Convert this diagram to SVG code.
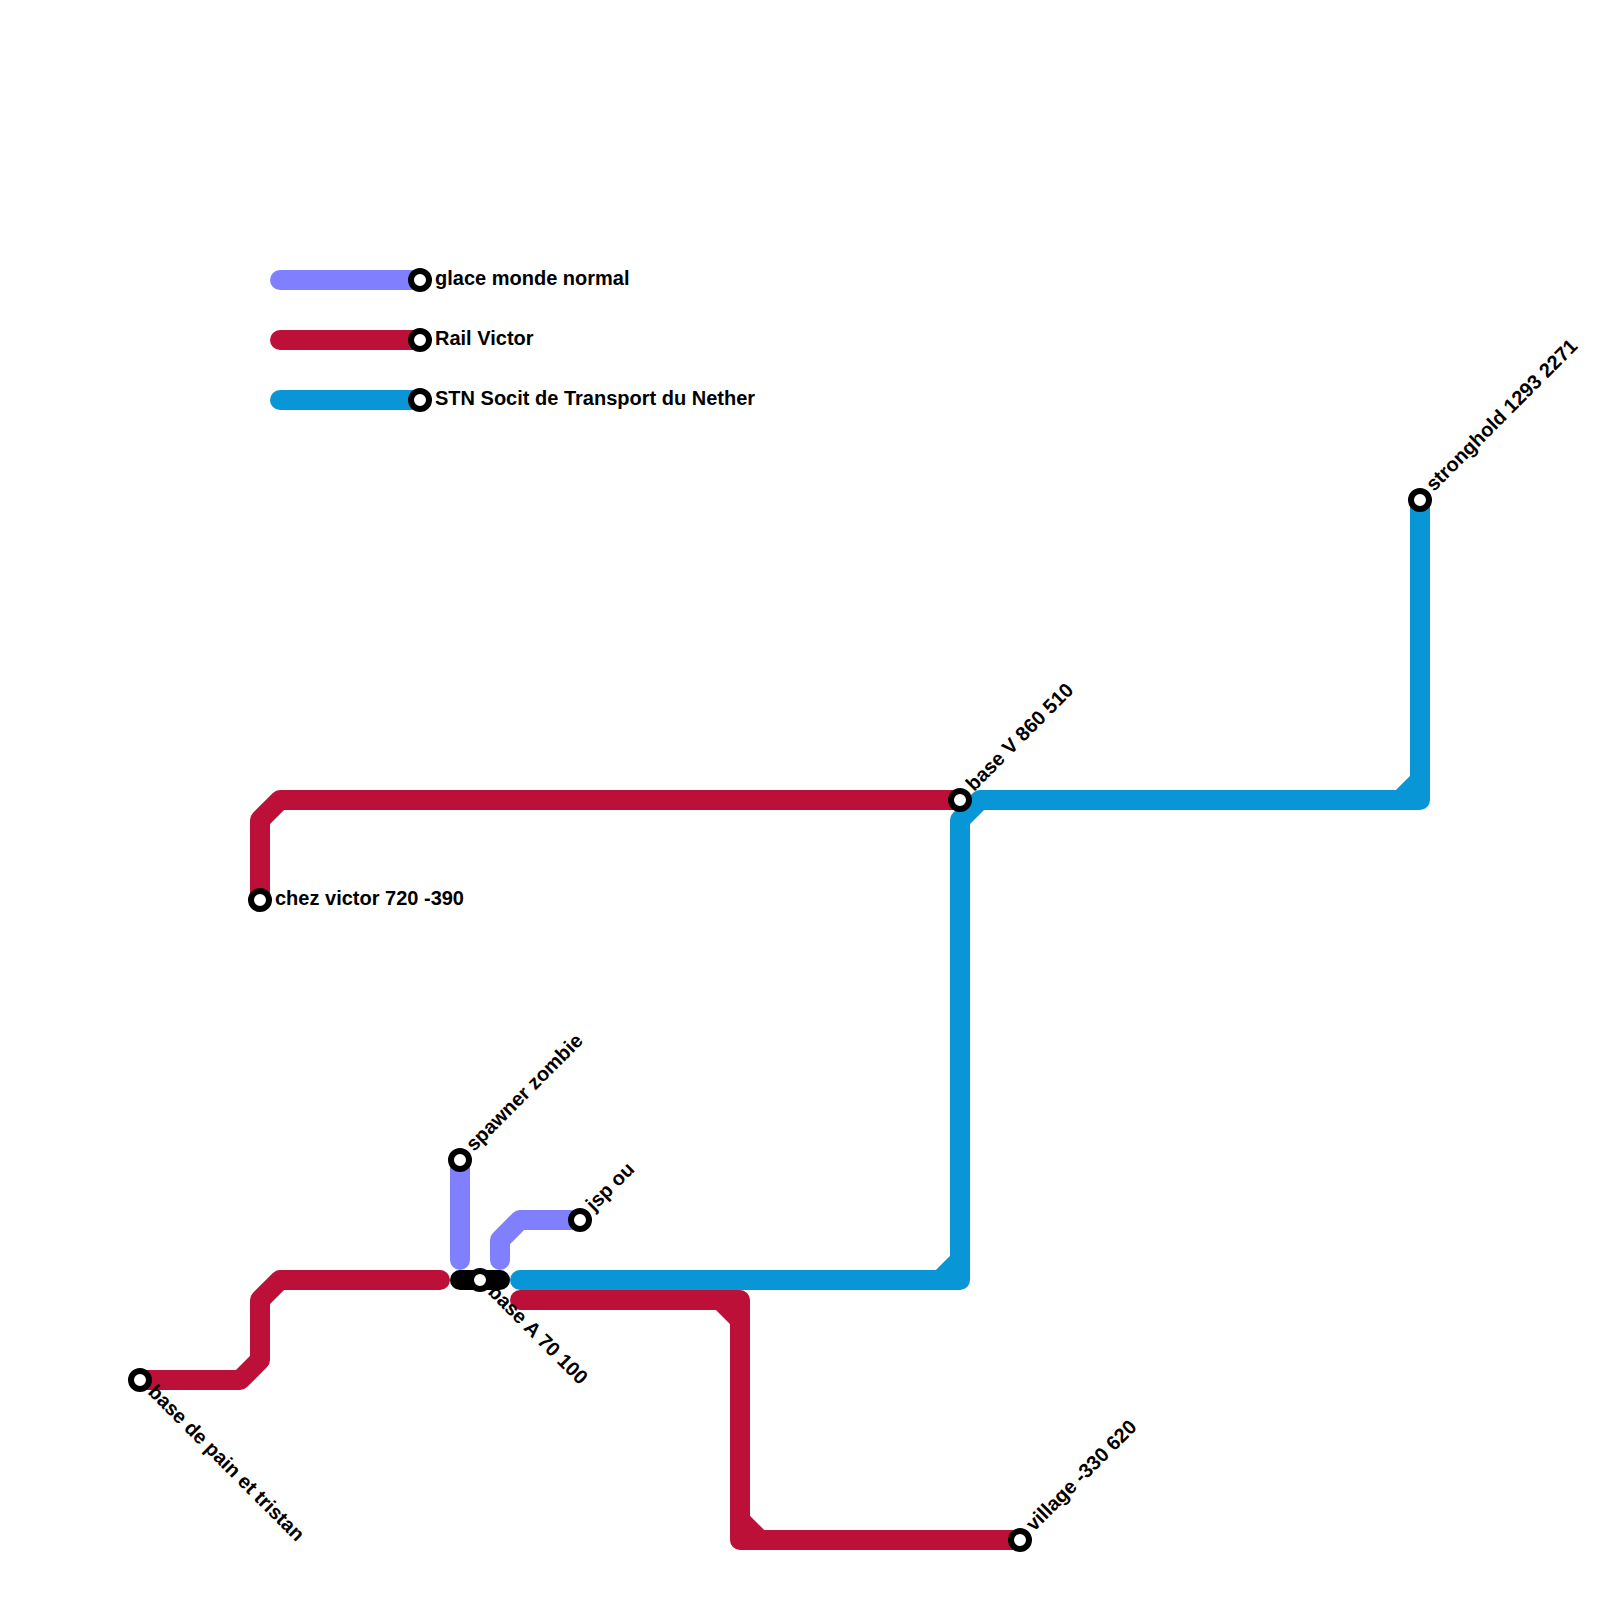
<svg xmlns="http://www.w3.org/2000/svg" width="1600" height="1600" viewBox="0 0 1600 1600">
<style>
.l{fill:none;stroke-width:20;stroke-linecap:round;stroke-linejoin:round}
.p{stroke:#8080ff}.r{stroke:#bd1038}.b{stroke:#0896d7}.k{stroke:#000}
.s{fill:#fff;stroke:#000;stroke-width:6}
text{font-family:"Liberation Sans",Arial,sans-serif;font-size:20px;font-weight:700;fill:#000}
</style>
<rect width="1600" height="1600" fill="#fff"/>
<g id="connectors">
<path class="l p" d="M280 280H420"/>
<path class="l r" d="M280 340H420"/>
<path class="l b" d="M280 400H420"/>
<path class="l r" d="M260 900V820L280 800H960"/>
<path class="l b" d="M1420 500V800H1400L1420 780M1400 800H980L960 820V1280H940L960 1260M940 1280H520"/>
<path class="l r" d="M140 1380H240L260 1360V1300L280 1280H440"/>
<path class="l r" d="M520 1300H740L720 1300L740 1320M740 1300V1540L760 1540L740 1520M760 1540H1020"/>
<path class="l p" d="M460 1160V1260"/>
<path class="l p" d="M500 1260V1240L520 1220H580"/>
<path class="l k" d="M460 1280H500"/>
</g>
<g id="n-legend-glace"><circle class="s" cx="420" cy="280" r="9"/><text x="435" y="285">glace monde normal</text></g>
<g id="n-legend-rail"><circle class="s" cx="420" cy="340" r="9"/><text x="435" y="345">Rail Victor</text></g>
<g id="n-legend-stn"><circle class="s" cx="420" cy="400" r="9"/><text x="435" y="405">STN Socit de Transport du Nether</text></g>
<g id="n-stronghold"><circle class="s" cx="1420" cy="500" r="9"/><text transform="translate(1434 492) rotate(-45)">stronghold 1293 2271</text></g>
<g id="n-basev"><circle class="s" cx="960" cy="800" r="9"/><text transform="translate(974 792) rotate(-45)">base V 860 510</text></g>
<g id="n-chezvictor"><circle class="s" cx="260" cy="900" r="9"/><text x="275" y="905">chez victor 720 -390</text></g>
<g id="n-spawner"><circle class="s" cx="460" cy="1160" r="9"/><text transform="translate(474 1152) rotate(-45)">spawner zombie</text></g>
<g id="n-jsp"><circle class="s" cx="580" cy="1220" r="9"/><text transform="translate(594 1212) rotate(-45)">jsp ou</text></g>
<g id="n-basea"><circle class="s" cx="480" cy="1280" r="9"/><text transform="translate(487 1293) rotate(45)">base A 70 100</text></g>
<g id="n-basepain"><circle class="s" cx="140" cy="1380" r="9"/><text transform="translate(147 1393) rotate(45)">base de pain et tristan</text></g>
<g id="n-village"><circle class="s" cx="1020" cy="1540" r="9"/><text transform="translate(1034 1532) rotate(-45)">village -330 620</text></g>
</svg>
